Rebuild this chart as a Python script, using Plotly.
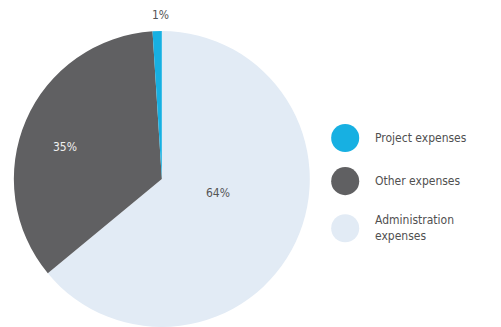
import plotly.graph_objects as go

labels = ["Project expenses", "Other expenses", "Administration<br>expenses"]
values = [1, 35, 64]
colors = ["#17b0e2", "#606062", "#e2ebf5"]
text_colors = ["#555555", "#f0f0f0", "#555555"]

# pie drawn clockwise from 12 o'clock: Administration, Other, Project
order = [2, 1, 0]
fig = go.Figure()
fig.add_trace(go.Pie(
    labels=[labels[i] for i in order], values=[values[i] for i in order],
    sort=False, direction="clockwise", rotation=0,
    marker=dict(colors=[colors[i] for i in order], line=dict(width=0)),
    textinfo="none", showlegend=False, hoverinfo="label+percent",
    domain=dict(x=[0.027, 0.619], y=[0.0, 0.905]),
))

# percent labels
label_pos = [(0.32, 0.954), (0.13, 0.55), (0.435, 0.41)]
for v, (x, y), c in zip(values, label_pos, text_colors):
    fig.add_annotation(x=x, y=y, xref="paper", yref="paper", text=f"{v}%",
                       xanchor="center", yanchor="middle", showarrow=False,
                       font=dict(size=12, color=c, family="DejaVu Sans Condensed, Roboto"))

# legend
leg_y = [0.578, 0.446, 0.302]
for lab, c, y in zip(labels, colors, leg_y):
    fig.add_shape(type="circle", xref="paper", yref="paper",
                  x0=0.661, x1=0.717, y0=y - 0.043, y1=y + 0.043,
                  fillcolor=c, line=dict(width=0))
    fig.add_annotation(x=0.745, y=y, xref="paper", yref="paper", text=lab,
                       showarrow=False, xanchor="left", yanchor="middle", align="left",
                       font=dict(size=12, color="#505050", family="DejaVu Sans Condensed, Roboto"))

fig.update_layout(width=501, height=327, margin=dict(l=0, r=0, t=0, b=0),
                  paper_bgcolor="white", plot_bgcolor="white")
fig.write_html("out.html")
